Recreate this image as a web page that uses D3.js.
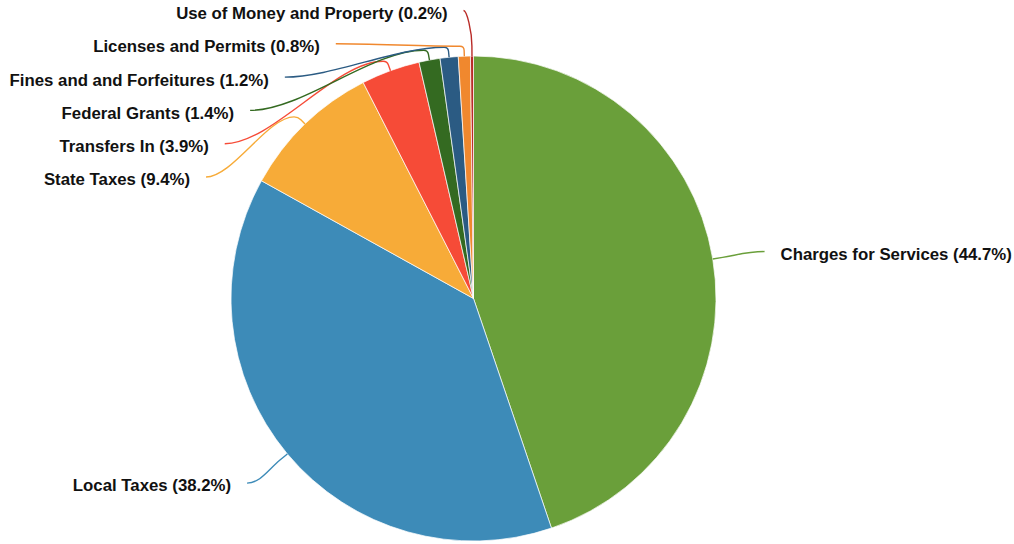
<!DOCTYPE html>
<html>
<head>
<meta charset="utf-8">
<script src="https://cdn.jsdelivr.net/npm/d3@7"></script>
<style>
  html, body { margin: 0; padding: 0; background: #fff; }
  svg { display: block; }
  text { font-family: "Liberation Sans", Arial, Helvetica, sans-serif; font-weight: bold; }
</style>
</head>
<body>
<svg id="chart" width="1014" height="544"></svg>
<script>
// ---- data ----
const categories = [
  "Charges for Services",
  "Local Taxes",
  "State Taxes",
  "Transfers In",
  "Federal Grants",
  "Fines and and Forfeitures",
  "Licenses and Permits",
  "Use of Money and Property"
];
const values = [44.7, 38.2, 9.4, 3.9, 1.4, 1.2, 0.8, 0.2];
const colors = ["#6a9f3a", "#3d8bb8", "#f7ab38", "#f64b37", "#346a21", "#2b5b83", "#f0882e", "#b92b27"];

// ---- layout ----
const W = 1014, H = 544;
const cx = 473.5, cy = 298.5, R = 242.5;
const labelA = 295, labelB = 288;   // ellipse on which label anchors sit
const elbowR = R + 10;
const spacing = 33.3;
const gap = 16;
const fontSize = 16.8;

const svg = d3.select("#chart");
const g = svg.append("g").attr("transform", `translate(${cx},${cy})`);

const data = categories.map((c, i) => ({ name: c, value: values[i], color: colors[i] }));
const pie = d3.pie().sort(null).value(d => d.value).startAngle(0).endAngle(2 * Math.PI);
const arcs = pie(data);
const arc = d3.arc().innerRadius(0).outerRadius(R);

g.selectAll("path.slice")
  .data(arcs)
  .enter().append("path")
  .attr("class", "slice")
  .attr("d", arc)
  .attr("fill", d => d.data.color)
  .attr("stroke", "#ffffff")
  .attr("stroke-width", 0.7);

// label positioning
const labels = arcs.map(d => {
  const a = (d.startAngle + d.endAngle) / 2;
  const s = Math.sin(a), c = Math.cos(a);
  return {
    d, a, s, c,
    side: s < 0 ? -1 : 1,
    ny: -labelB * c,      // natural y (relative to center)
    edge: [R * s, -R * c],
    elbow: [elbowR * s, -elbowR * c],
    adjusted: false
  };
});

[-1, 1].forEach(side => {
  const grp = labels.filter(l => l.side === side).sort((p, q) => p.ny - q.ny);
  let prev = null;
  grp.forEach(l => {
    let y = l.ny;
    if (prev !== null && y < prev + spacing) { y = prev + spacing; l.adjusted = true; }
    l.y = y;
    prev = y;
  });
});

labels.forEach(l => {
  const t = Math.max(0, 1 - (l.y / labelB) * (l.y / labelB));
  let dx = labelA * Math.sqrt(t);
  dx = Math.max(dx, 10);
  l.x = l.side * dx;
});

function leaderPath(l) {
  const L = [l.x, l.y], P = l.elbow, E = l.edge;
  const dx = P[0] - L[0];
  const p = d3.path();
  p.moveTo(L[0], L[1]);
  if (l.adjusted) {
    const sg = dx >= 0 ? 1 : -1;
    const rc = 4;
    const P1 = [P[0] - sg * rc, P[1]];
    const ux = E[0] - P[0], uy = E[1] - P[1];
    const ul = Math.hypot(ux, uy);
    const P2 = [P[0] + ux / ul * rc, P[1] + uy / ul * rc];
    const ddx = P1[0] - L[0];
    p.bezierCurveTo(L[0] + 0.3 * ddx, L[1], P1[0] - 0.3 * ddx, P1[1], P1[0], P1[1]);
    p.quadraticCurveTo(P[0], P[1], P2[0], P2[1]);
    p.lineTo(E[0], E[1]);
  } else {
    const k = 15;
    p.bezierCurveTo(L[0] + 0.4 * dx, L[1], P[0] + l.s * k, P[1] - l.c * k, P[0], P[1]);
    p.lineTo(E[0], E[1]);
  }
  return p.toString();
}

g.selectAll("path.leader")
  .data(labels)
  .enter().append("path")
  .attr("class", "leader")
  .attr("d", leaderPath)
  .attr("fill", "none")
  .attr("stroke", l => l.d.data.color)
  .attr("stroke-width", 1.4);

g.selectAll("text.label")
  .data(labels)
  .enter().append("text")
  .attr("class", "label")
  .attr("x", l => l.x + l.side * gap)
  .attr("y", l => l.y + 2.5)
  .attr("dy", "0.35em")
  .attr("text-anchor", l => l.side < 0 ? "end" : "start")
  .attr("font-size", fontSize)
  .attr("fill", "#111")
  .text(l => `${l.d.data.name} (${l.d.data.value.toFixed(1)}%)`);
</script>
</body>
</html>
